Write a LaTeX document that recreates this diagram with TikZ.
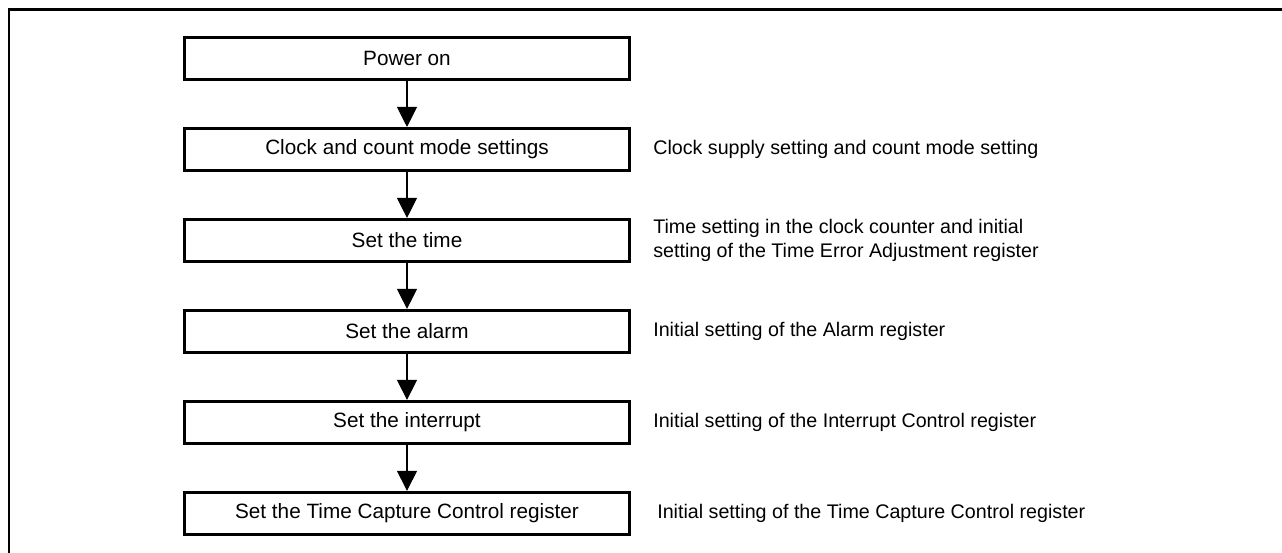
\documentclass[tikz,border=0pt]{standalone}
\usepackage{fontspec}
\setmainfont{Liberation Sans}
\usetikzlibrary{arrows.meta, positioning}

\begin{document}
\begin{tikzpicture}[
  x=0.02cm, y=-0.02cm,
  node distance=0.92cm and 0.44cm,
  stepbox/.style={draw, line width=1.7pt, minimum width=8.9cm, minimum height=0.84cm, align=center, font=\fontsize{11.8}{14}\selectfont},
  note/.style={inner sep=0pt, align=left, font=\fontsize{11.2}{13.6}\selectfont},
  arr/.style={-{Triangle[length=0.4cm, width=0.4cm]}, line width=0.6pt}
]
\useasboundingbox (0,0) rectangle (1282,553);
% open frame, top and left side only
\draw[line width=1.7pt] (1282,10) -- (9,10) -- (9,553);

\node[stepbox] (power) at (407,58.5) {Power on};
\node[stepbox, below=of power] (clock) {Clock and count mode settings};
\node[stepbox, below=of clock] (time) {Set the time};
\node[stepbox, below=of time] (alarm) {Set the alarm};
\node[stepbox, below=of alarm] (intr) {Set the interrupt};
\node[stepbox, below=of intr] (capture) {Set the Time Capture Control register};

\node[note, right=of clock] (nclock) {Clock supply setting and count mode setting};
\node[note, right=of time] (ntime) {Time setting in the clock counter and initial\\setting of the Time Error Adjustment register};
\node[note, right=of alarm] (nalarm) {Initial setting of the Alarm register};
\node[note, right=of intr] (nintr) {Initial setting of the Interrupt Control register};
\node[note, right=0.52cm of capture] (ncapture) {Initial setting of the Time Capture Control register};

\draw[arr] (power) -- (clock);
\draw[arr] (clock) -- (time);
\draw[arr] (time) -- (alarm);
\draw[arr] (alarm) -- (intr);
\draw[arr] (intr) -- (capture);
\end{tikzpicture}
\end{document}
